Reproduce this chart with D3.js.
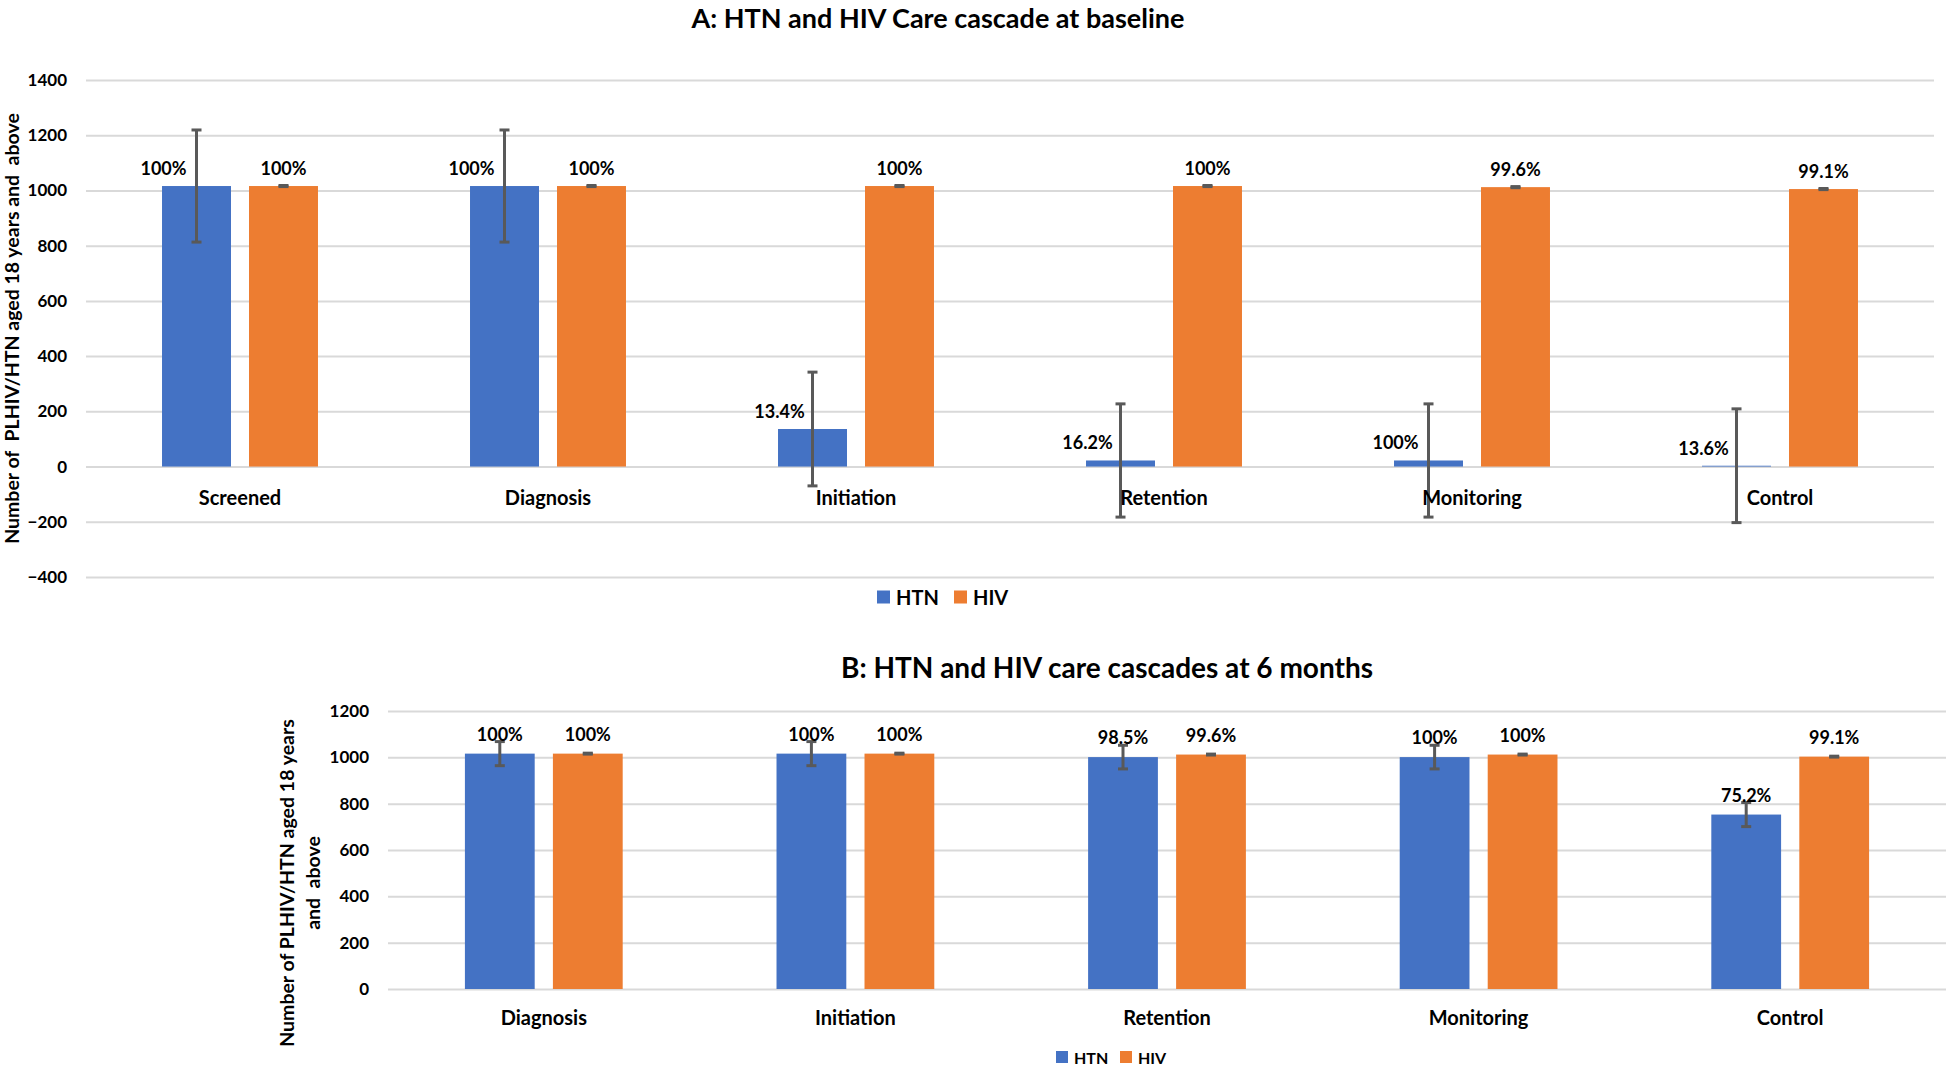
<!DOCTYPE html>
<html>
<head>
<meta charset="utf-8">
<script src="https://cdn.jsdelivr.net/npm/d3@7"></script>
<style>
  html, body { margin: 0; padding: 0; background: #ffffff; }
  svg { display: block; font-family: Lato, "Open Sans", "Liberation Sans", sans-serif; font-weight: bold; }
</style>
</head>
<body>
<svg id="chart" width="1952" height="1068"></svg>
<script>
// ---------- DATA ----------
const series = ["HTN", "HIV"];

const categoriesA = ["Screened", "Diagnosis", "Initiation", "Retention", "Monitoring", "Control"];
const htnA = [1016, 1016, 136, 22, 22, 3];
const hivA = [1016, 1016, 1016, 1016, 1012, 1005];
const htnErrA = [203, 203, 206, 205, 205, 206];
const hivErrA = [2, 2, 2, 2, 2, 2];
const htnLabelsA = ["100%", "100%", "13.4%", "16.2%", "100%", "13.6%"];
const hivLabelsA = ["100%", "100%", "100%", "100%", "99.6%", "99.1%"];
const ticksA = [-400, -200, 0, 200, 400, 600, 800, 1000, 1200, 1400];

const categoriesB = ["Diagnosis", "Initiation", "Retention", "Monitoring", "Control"];
const htnB = [1016, 1016, 1001, 1001, 753];
const hivB = [1016, 1016, 1012, 1012, 1003];
const htnErrB = [52, 52, 51, 51, 52];
const hivErrB = [2, 2, 2, 2, 2];
const htnLabelsB = ["100%", "100%", "98.5%", "100%", "75.2%"];
const hivLabelsB = ["100%", "100%", "99.6%", "100%", "99.1%"];
const ticksB = [0, 200, 400, 600, 800, 1000, 1200];

const titleA = "A: HTN and HIV Care cascade at baseline";
const titleB = "B: HTN and HIV care cascades at 6 months";
const yTitleA = ["Number of  PLHIV/HTN aged 18 years and  above"];
const yTitleB = ["Number of PLHIV/HTN aged 18 years", "and  above"];

const colors = { HTN: "#4472C4", HIV: "#ED7D31" };
const gridColor = "#d9d9d9";
const errColor = "#595959";

const svg = d3.select("#chart");
svg.append("rect").attr("width", 1952).attr("height", 1068).attr("fill", "#fff");

function drawPanel(cfg) {
  const g = svg.append("g");
  const x = d3.scaleBand().domain(cfg.categories).range([cfg.left, cfg.right]).paddingInner(0).paddingOuter(0);
  const xs = d3.scaleBand().domain(series).range([0, x.bandwidth()]).paddingInner(0.207).paddingOuter(0.874);
  const y = d3.scaleLinear().domain(cfg.domain).range([cfg.bottom, cfg.top]);

  // gridlines + tick labels via axis
  const axis = d3.axisLeft(y).tickValues(cfg.ticks).tickSize(-(cfg.right - cfg.left)).tickPadding(19).tickFormat(d3.format("d"));
  const ag = g.append("g").attr("transform", `translate(${cfg.left},0)`).call(axis);
  ag.select(".domain").remove();
  ag.selectAll(".tick line").attr("stroke", gridColor).attr("stroke-width", 2);
  ag.selectAll(".tick text").attr("font-size", cfg.tickFont).attr("font-family", "Lato, sans-serif").attr("font-weight", "bold").attr("fill", "#000");

  const rows = cfg.categories.map((c, i) => ({
    cat: c,
    vals: [
      { s: "HTN", v: cfg.htn[i], e: cfg.htnErr[i], lab: cfg.htnLabels[i], dx: cfg.htnLabelDx },
      { s: "HIV", v: cfg.hiv[i], e: cfg.hivErr[i], lab: cfg.hivLabels[i], dx: 0 }
    ]
  }));

  const cg = g.selectAll(".cat").data(rows).join("g").attr("transform", d => `translate(${x(d.cat)},0)`);
  const bg = cg.selectAll(".bar").data(d => d.vals).join("g");

  bg.append("rect")
    .attr("x", d => xs(d.s))
    .attr("width", xs.bandwidth())
    .attr("y", d => y(Math.max(0, d.v)))
    .attr("height", d => Math.abs(y(d.v) - y(0)))
    .attr("fill", d => colors[d.s]);

  // error bars
  const cx = d => xs(d.s) + xs.bandwidth() / 2;
  bg.append("line")
    .attr("x1", cx).attr("x2", cx)
    .attr("y1", d => y(d.v + d.e)).attr("y2", d => y(d.v - d.e))
    .attr("stroke", errColor).attr("stroke-width", 3);
  bg.append("line")
    .attr("x1", d => cx(d) - 5).attr("x2", d => cx(d) + 5)
    .attr("y1", d => y(d.v + d.e)).attr("y2", d => y(d.v + d.e))
    .attr("stroke", errColor).attr("stroke-width", 3);
  bg.append("line")
    .attr("x1", d => cx(d) - 5).attr("x2", d => cx(d) + 5)
    .attr("y1", d => y(d.v - d.e)).attr("y2", d => y(d.v - d.e))
    .attr("stroke", errColor).attr("stroke-width", 3);

  // data labels
  bg.append("text")
    .attr("x", d => cx(d) + d.dx)
    .attr("y", d => y(d.v) - cfg.labelGap)
    .attr("text-anchor", "middle")
    .attr("dominant-baseline", "central")
    .attr("font-size", cfg.labelFont)
    .attr("fill", "#000")
    .text(d => d.lab);

  // category labels
  cg.append("text")
    .attr("x", x.bandwidth() / 2)
    .attr("y", y(0) + cfg.catGap)
    .attr("text-anchor", "middle")
    .attr("dominant-baseline", "central")
    .attr("font-size", cfg.catFont)
    .attr("fill", "#000")
    .text(d => d.cat);

  // title
  g.append("text")
    .attr("x", cfg.titleX).attr("y", cfg.titleY)
    .attr("text-anchor", "middle").attr("dominant-baseline", "central")
    .attr("font-size", cfg.titleFont).attr("fill", "#000")
    .text(cfg.title);

  // y axis title
  const yt = g.append("text")
    .attr("transform", `translate(${cfg.yTitleX},${(y.range()[0] + y.range()[1]) / 2 + cfg.yTitleDy}) rotate(-90)`)
    .attr("text-anchor", "middle")
    .attr("xml:space", "preserve")
    .attr("font-size", cfg.yTitleFont).attr("fill", "#000");
  cfg.yTitle.forEach((t, i) => {
    yt.append("tspan").attr("x", 0).attr("dy", i === 0 ? "0.35em" : cfg.yTitleLine).text(t);
  });

  // legend
  const lg = g.append("g");
  series.forEach((s, i) => {
    lg.append("rect")
      .attr("x", cfg.legend.x[i]).attr("y", cfg.legend.y - cfg.legend.sq / 2)
      .attr("width", cfg.legend.sq).attr("height", cfg.legend.sq)
      .attr("fill", colors[s]);
    lg.append("text")
      .attr("x", cfg.legend.x[i] + cfg.legend.sq + 6).attr("y", cfg.legend.y)
      .attr("dominant-baseline", "central")
      .attr("font-size", cfg.legend.font).attr("fill", "#000")
      .text(s);
  });
}

drawPanel({
  categories: categoriesA, htn: htnA, hiv: hivA, htnErr: htnErrA, hivErr: hivErrA,
  htnLabels: htnLabelsA, hivLabels: hivLabelsA, ticks: ticksA,
  domain: [-400, 1400], left: 86, right: 1934, top: 80, bottom: 577,
  tickFont: 17, labelFont: 18, labelGap: 18, catFont: 20, catGap: 30,
  htnLabelDx: -33,
  title: titleA, titleX: 938, titleY: 17, titleFont: 27,
  yTitle: yTitleA, yTitleX: 12, yTitleDy: 0, yTitleFont: 19.5, yTitleLine: "1.3em",
  legend: { x: [877, 954], y: 597, sq: 13, font: 20 }
});

drawPanel({
  categories: categoriesB, htn: htnB, hiv: hivB, htnErr: htnErrB, hivErr: hivErrB,
  htnLabels: htnLabelsB, hivLabels: hivLabelsB, ticks: ticksB,
  domain: [0, 1200], left: 388, right: 1946, top: 711, bottom: 989,
  tickFont: 17, labelFont: 18, labelGap: 20, catFont: 20, catGap: 28,
  htnLabelDx: 0,
  title: titleB, titleX: 1107, titleY: 667, titleFont: 28,
  yTitle: yTitleB, yTitleX: 287, yTitleDy: 33, yTitleFont: 19.5, yTitleLine: "1.35em",
  legend: { x: [1056, 1120], y: 1057, sq: 12, font: 16 }
});
</script>
</body>
</html>
